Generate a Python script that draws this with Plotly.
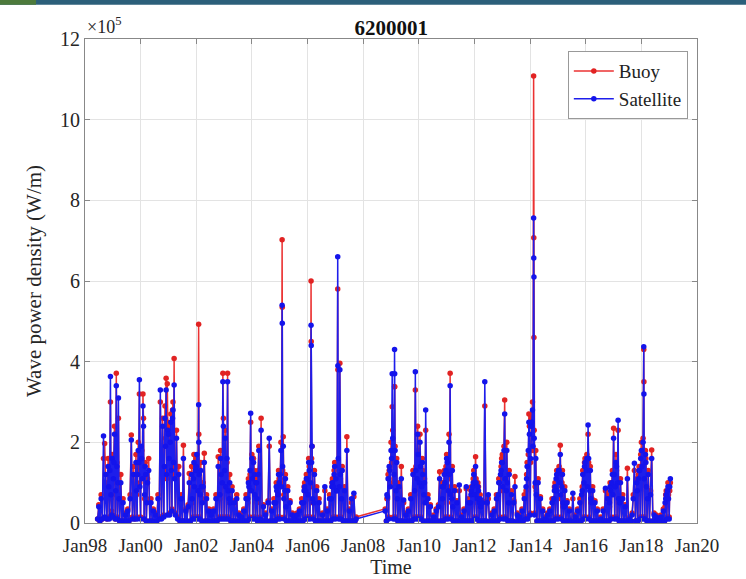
import plotly.graph_objects as go

# Values in units of 1e5 W/m, sampled on the 1st and 16th of each month.
# Record: 1998-06-16 .. 2007-10-01 and 2008-10-16 .. 2019-01-16
periods = [("1998-06-16", "2007-10-01"), ("2008-10-16", "2019-01-16")]

sat_values = [
    # 1998 (from Jun16)
    0.1, 0.4, 0.05, 0.6, 0.1, 2.16, 0.15, 1.2, 0.1, 1.4, 0.1, 3.63, 0.2,
    # 1999
    0.15, 1.5, 0.1, 3.4, 0.1, 3.1, 0.05, 1.0, 0.05, 0.5, 0.05, 0.2, 0.05, 0.3, 0.05, 0.6, 2.06, 0.1, 1.2, 0.1, 1.5, 0.1, 1.8, 3.55,
    # 2000
    0.1, 1.6, 2.9, 0.1, 1.4, 0.05, 1.0, 1.3, 0.05, 0.5, 0.05, 0.3, 0.02, 0.2, 0.05, 0.6, 0.1, 3.3, 0.1, 2.4, 0.15, 2.6, 3.3, 0.2,
    # 2001
    2.2, 0.2, 2.5, 0.3, 2.8, 3.42, 0.2, 2.1, 0.1, 1.2, 0.05, 0.6, 0.05, 1.6, 0.05, 0.3, 0.05, 0.4, 1.0, 0.05, 1.2, 0.1, 1.5, 0.1,
    # 2002
    1.4, 0.1, 2.93, 0.1, 1.3, 0.05, 0.9, 1.5, 0.05, 0.6, 0.05, 0.3, 0.02, 0.2, 0.05, 0.3, 0.05, 0.6, 0.05, 1.4, 0.1, 1.6, 0.1, 3.5,
    # 2003
    0.1, 2.1, 0.1, 3.5, 0.1, 1.0, 0.05, 0.8, 0.05, 0.5, 0.05, 0.6, 0.02, 0.2, 0.05, 0.15, 0.05, 0.3, 0.05, 0.6, 0.05, 1.0, 0.1, 2.72,
    # 2004
    1.6, 0.1, 1.2, 0.1, 1.0, 0.05, 1.8, 0.1, 2.3, 0.05, 0.4, 0.05, 0.2, 0.05, 0.5, 2.1, 0.05, 0.3, 0.05, 0.5, 0.05, 0.9, 0.1, 1.2,
    # 2005
    0.1, 1.8, 5.4, 1.9, 0.1, 1.1, 0.05, 0.8, 0.05, 0.5, 0.05, 0.2, 0.02, 0.15, 0.05, 0.2, 0.05, 0.3, 0.05, 0.5, 0.05, 0.8, 0.1, 1.1,
    # 2006
    0.1, 1.5, 0.1, 4.9, 1.9, 0.1, 1.2, 0.05, 0.8, 0.05, 0.5, 0.05, 0.02, 0.2, 0.05, 0.9, 0.05, 0.3, 0.05, 0.6, 0.05, 0.9, 0.1, 1.2,
    # 2007 (to Oct1)
    0.1, 0.8, 6.6, 0.1, 3.8, 0.1, 1.3, 0.05, 0.8, 0.05, 1.8, 0.05, 0.3, 0.05, 0.6, 0.05, 0.74, 0.05, 0.1,
    # 2008 (from Oct16)
    0.3, 0.05, 0.65, 0.1, 1.3,
    # 2009
    1.8, 3.7, 0.1, 4.3, 0.1, 1.5, 0.05, 0.9, 0.05, 1.1, 0.05, 0.57, 0.02, 0.2, 0.05, 0.3, 0.05, 0.6, 0.05, 1.2, 0.1, 3.75, 0.1, 2.2,
    # 2010
    0.1, 2.0, 0.1, 1.5, 0.05, 1.0, 2.8, 0.05, 0.6, 0.05, 0.4, 0.05, 0.02, 0.15, 0.05, 0.3, 0.05, 0.4, 1.1, 0.05, 0.9, 0.05, 1.2, 0.1,
    # 2011
    1.6, 0.1, 2.0, 3.4, 0.1, 1.3, 0.05, 0.8, 0.05, 0.5, 0.05, 0.94, 0.02, 0.15, 0.05, 0.3, 0.05, 0.9, 0.05, 0.5, 0.05, 0.7, 0.05, 1.0,
    # 2012
    0.1, 1.4, 0.1, 0.9, 0.05, 0.6, 0.05, 0.5, 0.05, 3.5, 0.05, 0.5, 0.7, 0.02, 0.05, 0.2, 0.05, 0.3, 0.05, 0.6, 0.05, 1.0, 0.1, 1.3,
    # 2013
    1.5, 0.1, 2.7, 0.1, 1.8, 0.05, 1.2, 0.05, 0.7, 0.05, 0.5, 0.9, 0.02, 0.2, 0.05, 0.15, 0.05, 0.3, 0.05, 0.6, 0.1, 1.1, 0.1, 2.5,
    # 2014
    0.2, 2.4, 2.8, 7.56, 0.2, 1.6, 0.05, 1.0, 0.05, 0.6, 0.05, 0.3, 0.02, 0.1, 0.05, 0.2, 0.05, 0.3, 0.05, 0.5, 0.05, 0.8, 0.1, 1.2,
    # 2015
    0.1, 1.3, 1.7, 0.1, 1.2, 0.05, 0.8, 0.05, 0.5, 0.05, 0.3, 0.05, 0.02, 0.74, 0.05, 0.15, 0.05, 0.3, 0.05, 0.5, 0.05, 0.8, 0.1, 1.4,
    # 2016
    0.1, 1.6, 2.43, 0.1, 1.3, 0.05, 0.8, 0.05, 0.5, 0.05, 0.3, 0.05, 0.02, 0.1, 0.05, 0.3, 0.05, 0.86, 0.05, 0.6, 0.05, 0.9, 0.1, 1.2,
    # 2017
    2.1, 0.1, 1.5, 0.1, 2.55, 0.05, 1.0, 0.05, 0.6, 0.05, 0.4, 0.05, 1.1, 0.02, 0.1, 0.05, 0.2, 0.6, 1.48, 0.05, 1.0, 0.05, 1.3, 0.1,
    # 2018
    1.8, 0.1, 4.37, 0.1, 1.5, 0.05, 1.2, 0.05, 0.7, 1.6, 0.05, 0.2, 0.02, 0.15, 0.05, 0.1, 0.05, 0.15, 0.05, 0.3, 0.05, 0.6, 0.1, 0.9,
    # 2019
    0.1, 1.1,
]

buoy_values = [
    # 1998 (from Jun16)
    0.1, 0.45, 0.05, 0.7, 0.1, 1.6, 1.97, 1.0, 0.1, 1.6, 0.15, 3.0, 0.3,
    # 1999
    0.2, 1.7, 0.1, 3.71, 0.15, 2.6, 0.05, 1.2, 0.05, 0.6, 0.05, 0.25, 0.05, 0.35, 0.05, 0.7, 2.18, 0.15, 1.4, 0.1, 1.7, 0.15, 2.0, 3.2,
    # 2000
    0.15, 1.8, 3.2, 0.1, 1.5, 0.05, 1.1, 1.6, 0.05, 0.6, 0.05, 0.35, 0.02, 0.25, 0.05, 0.7, 0.15, 3.0, 0.15, 2.6, 0.2, 2.9, 3.59, 3.45,
    # 2001
    2.4, 0.25, 2.7, 0.35, 3.0, 4.08, 0.25, 2.3, 0.15, 1.4, 0.05, 0.7, 0.05, 1.93, 0.05, 0.35, 0.05, 0.45, 1.23, 0.05, 1.4, 0.15, 1.7, 0.15,
    # 2002
    1.6, 0.15, 4.93, 0.15, 1.5, 0.05, 1.0, 1.73, 0.05, 0.7, 0.05, 0.35, 0.02, 0.25, 0.05, 0.35, 0.05, 0.7, 0.05, 1.64, 0.15, 1.8, 0.15, 3.71,
    # 2003
    0.15, 2.3, 0.15, 3.71, 0.15, 1.2, 0.05, 0.9, 0.05, 0.55, 0.05, 0.7, 0.02, 0.25, 0.05, 0.2, 0.05, 0.35, 0.05, 0.7, 0.05, 1.1, 0.15, 2.5,
    # 2004
    1.7, 0.15, 1.3, 0.15, 1.1, 0.05, 1.9, 0.15, 2.6, 0.05, 0.45, 0.05, 0.25, 0.05, 0.55, 1.9, 0.05, 0.35, 0.05, 0.6, 0.05, 1.0, 0.15, 1.3,
    # 2005
    0.15, 2.0, 7.02, 2.14, 0.15, 1.2, 0.05, 0.9, 0.05, 0.55, 0.05, 0.25, 0.02, 0.2, 0.05, 0.25, 0.05, 0.35, 0.05, 0.6, 0.05, 0.9, 0.15, 1.2,
    # 2006
    0.15, 1.6, 0.15, 6.0, 1.9, 0.15, 1.3, 0.05, 0.9, 0.05, 0.6, 0.05, 0.02, 0.25, 0.05, 0.8, 0.05, 0.35, 0.05, 0.7, 0.05, 1.0, 0.15, 1.3,
    # 2007 (to Oct1)
    0.15, 0.9, 5.8, 0.15, 3.96, 0.15, 1.4, 0.05, 0.9, 0.05, 2.14, 0.05, 0.35, 0.05, 0.5, 0.05, 0.65, 0.05, 0.15,
    # 2008 (from Oct16)
    0.35, 0.05, 0.6, 0.15, 1.4,
    # 2009
    2.0, 2.88, 0.15, 3.38, 0.15, 1.6, 0.05, 1.0, 0.05, 1.4, 0.05, 0.5, 0.02, 0.25, 0.05, 0.35, 0.05, 0.7, 0.05, 1.3, 0.15, 3.3, 0.15, 2.4,
    # 2010
    0.15, 2.2, 0.15, 1.6, 0.05, 1.1, 2.3, 0.05, 0.7, 0.05, 0.45, 0.05, 0.02, 0.2, 0.05, 0.35, 0.05, 0.45, 1.27, 0.05, 1.0, 0.05, 1.3, 0.15,
    # 2011
    1.7, 0.15, 2.2, 3.71, 0.15, 1.4, 0.05, 0.9, 0.05, 0.55, 0.05, 0.8, 0.02, 0.2, 0.05, 0.35, 0.05, 0.85, 0.05, 0.6, 0.05, 0.8, 0.05, 1.1,
    # 2012
    0.15, 1.64, 0.15, 1.0, 0.05, 0.7, 0.05, 0.55, 0.05, 2.9, 0.05, 0.55, 0.6, 0.02, 0.05, 0.25, 0.05, 0.35, 0.05, 0.7, 0.05, 1.1, 0.15, 1.4,
    # 2013
    1.7, 0.15, 3.05, 0.15, 2.0, 0.05, 1.3, 0.05, 0.8, 0.05, 0.55, 1.15, 0.02, 0.25, 0.05, 0.2, 0.05, 0.35, 0.05, 0.7, 0.15, 1.2, 0.15, 2.7,
    # 2014
    0.25, 2.6, 3.0, 11.08, 0.25, 1.8, 0.05, 1.1, 0.05, 0.65, 0.05, 0.35, 0.02, 0.15, 0.05, 0.25, 0.05, 0.35, 0.05, 0.6, 0.05, 0.9, 0.15, 1.3,
    # 2015
    0.15, 1.4, 1.93, 0.15, 1.3, 0.05, 0.9, 0.05, 0.55, 0.05, 0.35, 0.05, 0.02, 0.6, 0.05, 0.2, 0.05, 0.35, 0.05, 0.6, 0.05, 0.9, 0.15, 1.5,
    # 2016
    0.15, 1.7, 2.2, 0.15, 1.4, 0.05, 0.9, 0.05, 0.55, 0.05, 0.35, 0.05, 0.02, 0.15, 0.05, 0.35, 0.05, 0.8, 0.05, 0.7, 0.05, 1.0, 0.15, 1.3,
    # 2017
    2.35, 0.15, 1.7, 0.15, 2.3, 0.05, 1.1, 0.05, 0.7, 0.05, 0.45, 0.05, 1.36, 0.02, 0.15, 0.05, 0.25, 0.7, 1.3, 0.05, 1.1, 0.05, 1.4, 0.15,
    # 2018
    2.0, 0.15, 4.3, 0.15, 1.6, 0.05, 1.3, 0.05, 0.8, 1.81, 0.05, 0.25, 0.02, 0.2, 0.05, 0.15, 0.05, 0.2, 0.05, 0.35, 0.05, 0.7, 0.15, 1.0,
    # 2019
    0.15, 1.0,
]

# Extra winter samples on the 8th and 23rd of Nov-Mar (storm season)
winter_starts = [1998, 1999, 2000, 2001, 2002, 2003, 2004, 2005, 2006,
                 2008, 2009, 2010, 2011, 2012, 2013, 2014, 2015, 2016, 2017, 2018]
winter_sat = [
    0.9, 1.3, 0.7, 1.6, 1.1, 2.2, 0.8, 1.4, 1.0, 0.6,   # 98/99
    0.8, 1.2, 1.5, 0.9, 1.9, 1.1, 2.4, 0.7, 1.2, 0.5,   # 99/00
    1.4, 1.9, 1.2, 2.3, 1.6, 2.0, 1.3, 2.6, 1.5, 1.1,   # 00/01
    0.6, 1.1, 0.9, 1.3, 1.7, 0.8, 1.2, 0.7, 0.9, 0.5,   # 01/02
    0.7, 1.2, 1.0, 2.4, 1.3, 0.9, 1.6, 0.8, 0.6, 0.5,   # 02/03
    0.6, 0.9, 1.3, 0.8, 1.1, 1.5, 0.7, 1.0, 0.6, 1.2,   # 03/04
    0.5, 0.8, 0.7, 1.0, 1.2, 0.9, 1.4, 0.6, 0.8, 0.4,   # 04/05
    0.5, 0.9, 0.8, 1.1, 0.7, 1.3, 1.0, 1.5, 0.6, 0.5,   # 05/06
    0.6, 1.0, 0.9, 1.4, 1.1, 0.8, 1.6, 0.9, 1.2, 0.6,   # 06/07
    0.7, 1.1, 1.4, 0.9, 1.6, 2.1, 1.2, 1.8, 0.8, 0.6,   # 08/09
    0.8, 1.3, 1.1, 1.7, 1.0, 1.4, 0.9, 1.2, 0.7, 0.5,   # 09/10
    0.6, 0.9, 1.0, 1.3, 1.5, 0.8, 1.2, 0.7, 0.6, 0.4,   # 10/11
    0.5, 0.8, 0.9, 1.2, 0.7, 1.0, 0.6, 0.8, 0.5, 0.4,   # 11/12
    0.7, 1.0, 1.2, 1.5, 0.9, 1.8, 1.1, 0.8, 1.0, 0.5,   # 12/13
    0.9, 1.4, 1.8, 2.2, 1.6, 2.5, 1.9, 2.1, 1.0, 0.7,   # 13/14
    0.6, 0.9, 1.1, 0.8, 1.3, 1.0, 0.7, 0.9, 0.5, 0.4,   # 14/15
    0.7, 1.2, 1.0, 1.5, 1.3, 0.9, 1.6, 0.8, 0.6, 0.5,   # 15/16
    0.5, 0.8, 1.0, 0.7, 1.2, 0.9, 1.4, 1.0, 0.6, 0.5,   # 16/17
    0.8, 1.1, 1.3, 1.6, 1.4, 2.0, 1.1, 1.7, 0.9, 0.6,   # 17/18
    0.5, 0.7, 0.8, 0.6, 0.9,                            # 18/19 (to Jan8)
]
winter_buoy = [
    0.8, 1.4, 0.6, 1.7, 1.0, 2.4, 0.7, 1.5, 0.9, 0.7,   # 98/99
    0.7, 1.3, 1.4, 1.0, 1.8, 1.2, 2.6, 0.6, 1.1, 0.6,   # 99/00
    1.3, 2.1, 1.1, 2.5, 1.5, 2.2, 1.2, 2.8, 1.4, 1.2,   # 00/01
    0.5, 1.2, 0.8, 1.4, 1.6, 0.9, 1.1, 0.8, 0.8, 0.6,   # 01/02
    0.6, 1.3, 0.9, 2.6, 1.2, 1.0, 1.5, 0.9, 0.5, 0.6,   # 02/03
    0.5, 1.0, 1.2, 0.9, 1.0, 1.6, 0.6, 1.1, 0.5, 1.3,   # 03/04
    0.4, 0.9, 0.6, 1.1, 1.1, 1.0, 1.3, 0.7, 0.7, 0.5,   # 04/05
    0.4, 1.0, 0.7, 1.2, 0.6, 1.4, 0.9, 1.6, 0.5, 0.6,   # 05/06
    0.5, 1.1, 0.8, 1.5, 1.0, 0.9, 1.5, 1.0, 1.1, 0.7,   # 06/07
    0.6, 1.2, 1.3, 1.0, 1.5, 2.3, 1.1, 1.9, 0.7, 0.7,   # 08/09
    0.7, 1.4, 1.0, 1.8, 0.9, 1.5, 0.8, 1.3, 0.6, 0.6,   # 09/10
    0.5, 1.0, 0.9, 1.4, 1.4, 0.9, 1.1, 0.8, 0.5, 0.5,   # 10/11
    0.4, 0.9, 0.8, 1.3, 0.6, 1.1, 0.5, 0.9, 0.4, 0.5,   # 11/12
    0.6, 1.1, 1.1, 1.6, 0.8, 1.9, 1.0, 0.9, 0.9, 0.6,   # 12/13
    0.8, 1.5, 1.7, 2.4, 1.5, 2.7, 1.8, 2.3, 0.9, 0.8,   # 13/14
    0.5, 1.0, 1.0, 0.9, 1.2, 1.1, 0.6, 1.0, 0.4, 0.5,   # 14/15
    0.6, 1.3, 0.9, 1.6, 1.2, 1.0, 1.5, 0.9, 0.5, 0.6,   # 15/16
    0.4, 0.9, 0.9, 0.8, 1.1, 1.0, 1.3, 1.1, 0.5, 0.6,   # 16/17
    0.7, 1.2, 1.2, 1.7, 1.3, 2.1, 1.0, 1.8, 0.8, 0.7,   # 17/18
    0.4, 0.8, 0.7, 0.7, 0.8,                            # 18/19 (to Jan8)
]

# Extra storm samples (markers along the tall spikes)
extra_dates = ["2002-02-03", "2005-02-03", "2006-02-18", "2007-02-03",
               "2009-02-18", "2014-02-18", "2014-02-20", "2018-02-03"]
extra_sat = [2.0, 4.95, 4.4, 3.9, 3.7, 6.57, 6.1, 3.2]
extra_buoy = [2.2, 5.35, 4.5, 3.8, 3.38, 7.07, 4.6, 3.5]

END = "2019-01-16"

# Sample dates (1st and 16th of each month inside the record periods)
sample_dates = []
for y in range(1998, 2020):
    for m in range(1, 13):
        for d in (1, 16):
            s = f"{y}-{m:02d}-{d:02d}"
            if any(a <= s <= b for a, b in periods):
                sample_dates.append(s)

winter_dates = []
for w in winter_starts:
    for (yy, mm) in [(w, 11), (w, 12), (w + 1, 1), (w + 1, 2), (w + 1, 3)]:
        for d in (8, 23):
            s = f"{yy}-{mm:02d}-{d:02d}"
            if s <= END:
                winter_dates.append(s)

rows = sorted(zip(sample_dates + winter_dates + extra_dates,
                  buoy_values + winter_buoy + extra_buoy,
                  sat_values + winter_sat + extra_sat))
dates = [r[0] for r in rows]
buoy = [r[1] for r in rows]
sat = [r[2] for r in rows]

FONT = "Liberation Serif"

fig = go.Figure()
fig.add_trace(go.Scatter(
    x=dates, y=buoy, name="Buoy", mode="lines+markers",
    line=dict(color="rgb(235,50,50)", width=1.5),
    marker=dict(color="rgb(225,35,35)", size=5.5),
))
fig.add_trace(go.Scatter(
    x=dates, y=sat, name="Satellite", mode="lines+markers",
    line=dict(color="rgb(30,30,235)", width=1.5),
    marker=dict(color="rgb(20,20,235)", size=5.5),
))

fig.update_layout(
    width=746, height=579,
    margin=dict(l=85, r=49, t=39, b=56),
    paper_bgcolor="white", plot_bgcolor="white",
    font=dict(family=FONT, size=20, color="#262626"),
    title=dict(text="<b>6200001</b>", x=0.5245, xanchor="center",
               y=0.952, yanchor="middle", font=dict(family=FONT, size=21, color="#111")),
    showlegend=True,
    legend=dict(x=0.985, y=0.975, xanchor="right", yanchor="top",
                bgcolor="white", bordercolor="#999", borderwidth=1,
                font=dict(family=FONT, size=19, color="#222"),
                itemwidth=40, tracegroupgap=0),
)

fig.update_xaxes(
    type="date", range=["1998-01-01", "2020-01-01"],
    tick0="1998-01-01", dtick="M24", tickformat="%b%y",
    showgrid=True, gridcolor="#e3e3e3", gridwidth=1,
    showline=True, linecolor="#888", linewidth=1, mirror="ticks",
    ticks="inside", ticklen=5, tickcolor="#888", ticklabelstandoff=5,
    tickfont=dict(family=FONT, size=19, color="#262626"),
    title=dict(text="Time", font=dict(family=FONT, size=20, color="#262626"), standoff=1),
    zeroline=False, automargin=False,
)
fig.update_yaxes(
    range=[0, 12], tickvals=[0, 2, 4, 6, 8, 10, 12],
    showgrid=True, gridcolor="#e3e3e3", gridwidth=1,
    showline=True, linecolor="#888", linewidth=1, mirror="ticks",
    ticks="inside", ticklen=5, tickcolor="#888",
    tickfont=dict(family=FONT, size=20, color="#262626"),
    title=dict(text="Wave power density (W/m)", font=dict(family=FONT, size=21, color="#262626"), standoff=12),
    zeroline=False,
)

fig.add_annotation(
    xref="paper", yref="paper", x=0.0, y=1.0, xanchor="left", yanchor="bottom",
    text="×10<sup>5</sup>", showarrow=False,
    font=dict(family=FONT, size=18, color="#262626"),
)

# thin banner strip at the very top (cropped from the source page)
fig.add_shape(type="rect", xref="paper", yref="paper",
              x0=-0.15, x1=1.1, y0=1.071, y1=1.09,
              line=dict(width=0), fillcolor="#2c5f7a", layer="below")
fig.add_shape(type="rect", xref="paper", yref="paper",
              x0=-0.15, x1=-0.08, y0=1.071, y1=1.09,
              line=dict(width=0), fillcolor="#4d7a3c", layer="below")

fig.write_html("out.html")
